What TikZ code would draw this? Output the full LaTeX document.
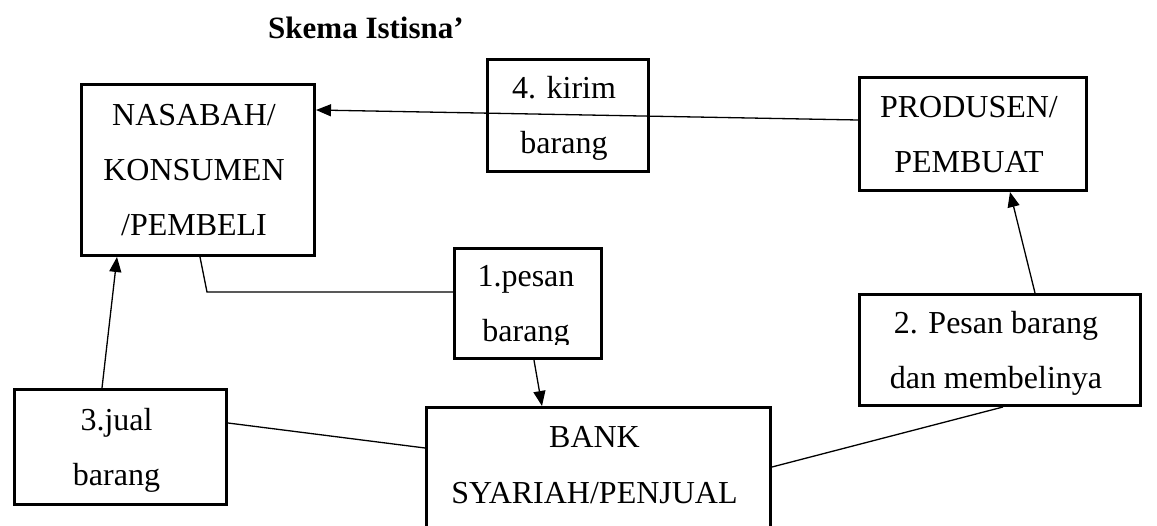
\documentclass[tikz,border=0pt]{standalone}
\usepackage{fontspec}
\setmainfont{Liberation Serif}
\usetikzlibrary{arrows.meta}
% one line of box text: strut for even spacing, kern for the text inset
\newcommand\bxl[1]{\strut#1\kern8pt}
\begin{document}
\begin{tikzpicture}[x=1pt,y=-1pt,
  bx/.style={draw, line width=3.4pt, inner sep=0pt, align=center,
    font=\fontsize{32}{55}\selectfont},
  conn/.style={line width=1.3pt},
  arr/.style={conn, -{Triangle[length=15pt,width=12pt]}}]
\useasboundingbox (0,0) rectangle (1157,526);
\clip (0,0) rectangle (1157,526);

% title
\node[anchor=base, font=\bfseries\fontsize{31}{37}\selectfont] (title) at (366,38.5) {Skema Istisna’};

% boxes
\node[bx, minimum width=232.6pt, minimum height=170.6pt] (nas) at (198,170)
  {\bxl{NASABAH/}\\\bxl{KONSUMEN}\\\bxl{/PEMBELI}};
\node[bx, minimum width=160.6pt, minimum height=111.6pt] (kirim) at (568,115.5)
  {\bxl{4. kirim}\\\bxl{barang}};
\node[bx, minimum width=226.6pt, minimum height=112.6pt] (prod) at (973,134)
  {\bxl{PRODUSEN/}\\\bxl{PEMBUAT}};
\begin{scope}[even odd rule]
  % the last line is cut off just under its baseline
  \clip (0,0) rectangle (1157,526) (456.5,345) rectangle (599.5,353.6);
  \node[bx, minimum width=146.6pt, minimum height=103.6pt] (pesan) at (528,303.5)
    {\strut 1.pesan\kern4pt\\\strut barang\kern4pt};
\end{scope}
\node[bx, minimum width=280.6pt, minimum height=110.6pt] (order) at (1000,350)
  {\bxl{2. Pesan barang}\\\bxl{dan membelinya}};
\node[bx, minimum width=211.6pt, minimum height=114.6pt] (jual) at (120.5,447)
  {\bxl{3.jual}\\\bxl{barang}};
\node[bx, minimum width=343.6pt, minimum height=136.6pt, text depth=39.5pt] (bank) at (598.5,476)
  {\bxl{BANK}\\\bxl{SYARIAH/PENJUAL}};

% connectors
\coordinate (bend) at (207,292);
\draw[conn] ([xshift=2pt]nas.south) -- (bend) -- ([yshift=11.5pt]pesan.west);
\draw[arr] ([xshift=6pt]pesan.south) -- ([xshift=-56.5pt]bank.north);
\draw[arr] ([xshift=35pt]order.north) -- ([xshift=37pt]prod.south);
\draw[conn] ([yshift=9pt]bank.east) -- ([xshift=3pt]order.south);
\draw[conn] ([yshift=24pt]jual.east) -- ([yshift=28pt]bank.west);
\draw[arr] ([xshift=-18.5pt]jual.north) -- ([xshift=-81pt]nas.south);
\draw[arr] ([yshift=14pt]prod.west) -- ([yshift=60pt]nas.east);
\end{tikzpicture}
\end{document}
